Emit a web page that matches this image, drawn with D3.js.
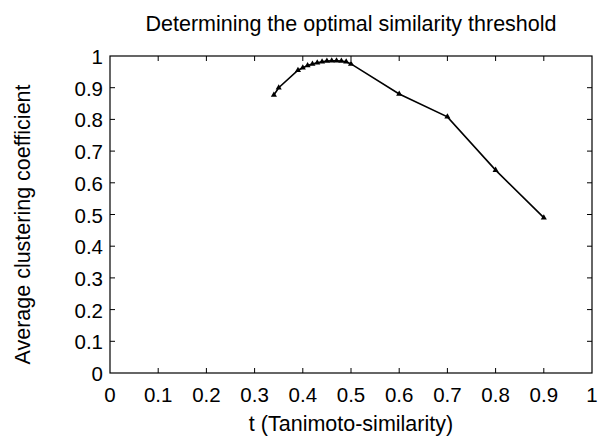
<!DOCTYPE html>
<html>
<head>
<meta charset="utf-8">
<script src="https://cdn.jsdelivr.net/npm/d3@7"></script>
<style>
  html, body { margin: 0; padding: 0; background: #fff; }
  text { font-family: "Liberation Sans", Arial, Helvetica, sans-serif; fill: #000; }
</style>
</head>
<body>
<svg id="chart" width="601" height="437"></svg>
<script>
// Similarity threshold t and the resulting average clustering coefficient
const thresholds = [0.34, 0.35, 0.39, 0.40, 0.41, 0.42, 0.43, 0.44, 0.45, 0.46, 0.47, 0.48, 0.49, 0.50, 0.60, 0.70, 0.80, 0.90];
const clustering = [0.877, 0.900, 0.955, 0.963, 0.970, 0.975, 0.979, 0.982, 0.984, 0.985, 0.985, 0.984, 0.982, 0.975, 0.880, 0.808, 0.640, 0.490];

const xTicks = [0, 0.1, 0.2, 0.3, 0.4, 0.5, 0.6, 0.7, 0.8, 0.9, 1];
const yTicks = [0, 0.1, 0.2, 0.3, 0.4, 0.5, 0.6, 0.7, 0.8, 0.9, 1];
const titleText = "Determining the optimal similarity threshold";
const xLabel = "t (Tanimoto-similarity)";
const yLabel = "Average clustering coefficient";

const svg = d3.select("#chart");
const margin = { left: 110, right: 9, top: 56, bottom: 64 };
const W = 601, H = 437;
const x = d3.scaleLinear().domain([0, 1]).range([margin.left, W - margin.right]);
const y = d3.scaleLinear().domain([0, 1]).range([H - margin.bottom, margin.top]);

const fmt = d => d === 0 ? "0" : d === 1 ? "1" : d3.format(".1f")(d);
const tickLen = 5;
const tickFont = 20.5, labelFont = 21.5;

// Mirrored inward ticks on all four sides
const g = svg.append("g");
xTicks.forEach(t => {
  if (t === 0 || t === 1) return;
  g.append("line").attr("x1", x(t)).attr("x2", x(t)).attr("y1", y(0)).attr("y2", y(0) - tickLen)
    .attr("stroke", "#000").attr("stroke-width", 1);
  g.append("line").attr("x1", x(t)).attr("x2", x(t)).attr("y1", y(1)).attr("y2", y(1) + tickLen)
    .attr("stroke", "#000").attr("stroke-width", 1);
});
yTicks.forEach(t => {
  if (t === 0 || t === 1) return;
  g.append("line").attr("x1", x(0)).attr("x2", x(0) + tickLen).attr("y1", y(t)).attr("y2", y(t))
    .attr("stroke", "#000").attr("stroke-width", 1);
  g.append("line").attr("x1", x(1)).attr("x2", x(1) - tickLen).attr("y1", y(t)).attr("y2", y(t))
    .attr("stroke", "#000").attr("stroke-width", 1);
});

// Tick labels
svg.append("g").selectAll("text").data(xTicks).join("text")
  .attr("x", d => x(d)).attr("y", y(0) + 29)
  .attr("text-anchor", "middle").attr("font-size", tickFont).text(fmt);
svg.append("g").selectAll("text").data(yTicks).join("text")
  .attr("x", x(0) - 7).attr("y", d => y(d) + 8)
  .attr("text-anchor", "end").attr("font-size", tickFont).text(fmt);

// Frame
svg.append("rect").attr("x", x(0)).attr("y", y(1))
  .attr("width", x(1) - x(0)).attr("height", y(0) - y(1))
  .attr("fill", "none").attr("stroke", "#000").attr("stroke-width", 1.2);

// Data line and triangle markers
const pts = thresholds.map((t, i) => [t, clustering[i]]);
svg.append("path").datum(pts)
  .attr("d", d3.line().x(d => x(d[0])).y(d => y(d[1])))
  .attr("fill", "none").attr("stroke", "#000").attr("stroke-width", 1.6);
svg.append("g").selectAll("path").data(pts).join("path")
  .attr("transform", d => `translate(${x(d[0])},${y(d[1])})`)
  .attr("d", d3.symbol(d3.symbolTriangle, 16))
  .attr("fill", "#000");

// Title and axis labels
svg.append("text").attr("x", (x(0) + x(1)) / 2).attr("y", 31)
  .attr("text-anchor", "middle").attr("font-size", labelFont).text(titleText);
svg.append("text").attr("x", (x(0) + x(1)) / 2).attr("y", 431)
  .attr("text-anchor", "middle").attr("font-size", labelFont).text(xLabel);
svg.append("text").attr("transform", `translate(30,${(y(0) + y(1)) / 2 + 10}) rotate(-90)`)
  .attr("text-anchor", "middle").attr("font-size", labelFont).text(yLabel);
</script>
</body>
</html>
